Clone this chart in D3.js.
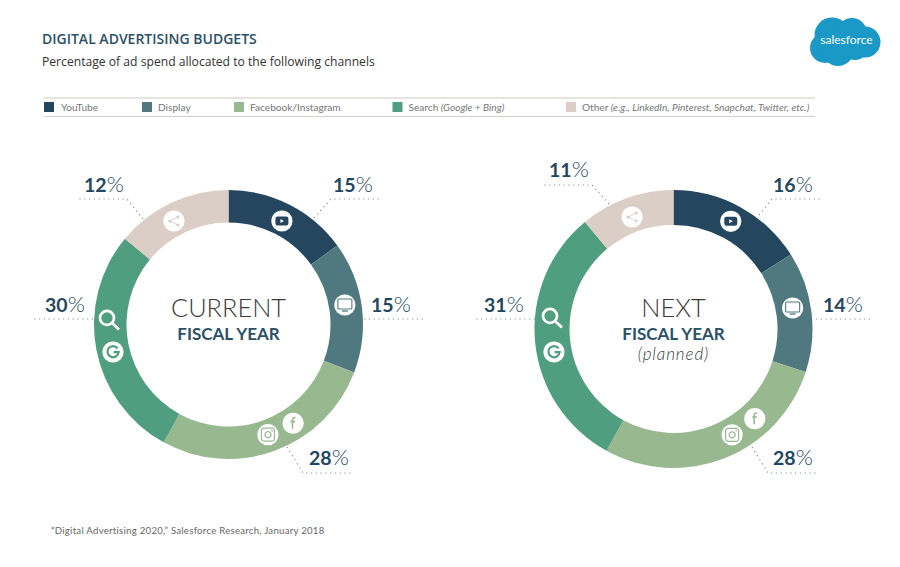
<!DOCTYPE html>
<html>
<head>
<meta charset="utf-8">
<script src="https://cdn.jsdelivr.net/npm/d3@7"></script>
<style>
html, body { margin: 0; padding: 0; background: #fff; }
svg { display: block; }
text { font-family: Lato, "Open Sans", sans-serif; }
</style>
</head>
<body>
<div id="chart"></div>
<script>
const channels = ["YouTube", "Display", "Facebook/Instagram", "Search", "Other"];
const channelNotes = ["", "", "", "(Google + Bing)", "(e.g., LinkedIn, Pinterest, Snapchat, Twitter, etc.)"];
const channelColors = ["#24475f", "#4f797e", "#98b98f", "#4f9e7f", "#dbcec6"];

// printed percentages
const currentLabels = [15, 15, 28, 30, 12];
const nextLabels = [16, 14, 28, 31, 11];

// slice sizes as measured on the picture. The left donut isn't quite drawn to its printed numbers
const currentSlices = [15, 15.8, 27.2, 28, 14];
const nextSlices = [16, 14, 28, 31, 11];

const width = 900, height = 567;

const svg = d3.select("#chart").append("svg")
    .attr("width", width)
    .attr("height", height);

// header
svg.append("text")
    .attr("x", 42).attr("y", 44)
    .style("font-family", "'Open Sans'")
    .style("font-size", "14px").style("font-weight", 600)
    .attr("fill", "#2c5068")
    .text("DIGITAL ADVERTISING BUDGETS");

svg.append("text")
    .attr("x", 42).attr("y", 66)
    .style("font-family", "'Open Sans'")
    .style("font-size", "12.15px")
    .attr("fill", "#333")
    .text("Percentage of ad spend allocated to the following channels");

// salesforce cloud
const logo = svg.append("g").attr("fill", "#1a98c6");
[[832, 35, 17.5], [852, 33, 15], [865, 42, 15.5], [825, 48, 15], [838, 50, 16], [855, 47, 13]]
    .forEach(c => logo.append("circle").attr("cx", c[0]).attr("cy", c[1]).attr("r", c[2]));
svg.append("text")
    .attr("x", 846.5).attr("y", 44)
    .attr("text-anchor", "middle")
    .style("font-size", "12px")
    .attr("fill", "#fff")
    .text("salesforce");

// legend
const legendX = [44, 142, 234, 392.5, 566];
svg.append("line").attr("x1", 44).attr("x2", 815).attr("y1", 98).attr("y2", 98)
    .attr("stroke", "#dcdcd4").attr("stroke-width", 1.5);
svg.append("line").attr("x1", 44).attr("x2", 815).attr("y1", 116.5).attr("y2", 116.5)
    .attr("stroke", "#d0d0cc").attr("stroke-width", 1);

const legend = svg.selectAll(".legend").data(channels).enter().append("g")
    .attr("class", "legend")
    .attr("transform", (d, i) => `translate(${legendX[i]},102)`);

legend.append("rect")
    .attr("width", 10).attr("height", 10)
    .attr("fill", (d, i) => channelColors[i]);

const legendText = legend.append("text")
    .attr("x", (d, i) => i == 0 ? 17 : 16).attr("y", 9)
    .style("font-size", "10.15px")
    .attr("fill", "#777");
legendText.append("tspan").text(d => d);
legendText.append("tspan")
    .style("font-style", "italic")
    .text((d, i) => channelNotes[i] ? " " + channelNotes[i] : "");

// icon glyphs, all in a 0,0 centered box. c is the slice color
const disc = (g) => g.append("circle").attr("r", 10.6).attr("fill", "#fff");

const glyphs = {
    youtube: (g, c) => {
        disc(g);
        g.append("rect").attr("x", -6.5).attr("y", -4.5).attr("width", 13).attr("height", 9).attr("rx", 2.2).attr("fill", c);
        g.append("path").attr("d", "M-1.5,-2 L2,0 L-1.5,2 Z").attr("fill", "#fff");
    },
    display: (g, c) => {
        disc(g);
        g.append("rect").attr("x", -7).attr("y", -6).attr("width", 14).attr("height", 10).attr("rx", 1)
            .attr("fill", "none").attr("stroke", c).attr("stroke-width", 1.1);
        g.append("line").attr("x1", -3).attr("x2", 3).attr("y1", 6).attr("y2", 6)
            .attr("stroke", c).attr("stroke-width", 1.3);
    },
    facebook: (g, c) => {
        disc(g);
        g.append("path").attr("d", "M2.4,-5.6 C0.2,-6 -0.6,-4.8 -0.6,-3 L-0.6,5.5 M-2.6,-1.6 L2,-1.6")
            .attr("fill", "none").attr("stroke", c).attr("stroke-width", 1.6);
    },
    instagram: (g, c) => {
        disc(g);
        g.append("rect").attr("x", -6.5).attr("y", -6.5).attr("width", 13).attr("height", 13).attr("rx", 2.5)
            .attr("fill", "none").attr("stroke", c).attr("stroke-width", 1.2);
        g.append("circle").attr("r", 3).attr("fill", "none").attr("stroke", c).attr("stroke-width", 1.2);
        g.append("circle").attr("cx", 4).attr("cy", -4).attr("r", 0.8).attr("fill", c);
    },
    google: (g, c) => {
        disc(g);
        g.append("path").attr("d", "M4.6,-3.6 A5.6,5.6 0 1 0 5.6,0.2 L0.6,0.2")
            .attr("fill", "none").attr("stroke", c).attr("stroke-width", 2.2);
    },
    search: (g) => {
        g.append("circle").attr("cx", -2).attr("cy", -2).attr("r", 7)
            .attr("fill", "none").attr("stroke", "#fff").attr("stroke-width", 2.7);
        g.append("line").attr("x1", 3).attr("y1", 3).attr("x2", 10).attr("y2", 9.5)
            .attr("stroke", "#fff").attr("stroke-width", 2.7);
    },
    share: (g, c) => {
        disc(g);
        g.append("path").attr("d", "M4,-4 L-4,0 L4,4")
            .attr("fill", "none").attr("stroke", c).attr("stroke-width", 0.9);
        [[4, -4], [-4, 0], [4, 4]].forEach(p =>
            g.append("circle").attr("cx", p[0]).attr("cy", p[1]).attr("r", 1.6).attr("fill", c));
    }
};

function drawDonut(opts) {
    const pie = d3.pie().sort(null).value(d => d);
    const arc = d3.arc().innerRadius(opts.inner).outerRadius(opts.outer);

    const g = svg.append("g")
        .attr("transform", `translate(${opts.cx},${opts.cy})`);

    g.selectAll("path.slice")
        .data(pie(opts.slices))
        .enter()
        .append("path")
        .attr("class", "slice")
        .attr("d", arc)
        .attr("fill", (d, i) => channelColors[i]);

    // icons sit on the ring, [glyph, slice index, angle in degrees, radius]
    opts.icons.forEach(ic => {
        const p = d3.pointRadial(ic[2] * Math.PI / 180, ic[3]);
        const icon = g.append("g").attr("transform", `translate(${p[0]},${p[1]})`);
        glyphs[ic[0]](icon, channelColors[ic[1]]);
    });

    // dotted leaders and the percentage labels
    const line = d3.line();
    opts.leaders.forEach((pts, i) => {
        svg.append("path")
            .attr("d", line(pts))
            .attr("fill", "none")
            .attr("stroke", "#8a8f92")
            .attr("stroke-width", 1.2)
            .attr("stroke-dasharray", "1.2 3.6");

        const t = svg.append("text")
            .attr("x", opts.labelPos[i][0]).attr("y", opts.labelPos[i][1])
            .attr("fill", "#24475f");
        t.append("tspan").style("font-size", "19.5px").style("font-weight", 700).text(opts.labels[i]);
        t.append("tspan").style("font-size", "22px").style("font-weight", 300).text("%");
    });

    // center text
    opts.center.forEach(c => {
        svg.append("text")
            .attr("x", opts.cx).attr("y", c.y)
            .attr("text-anchor", "middle")
            .attr("fill", c.color)
            .style("font-size", c.size + "px")
            .style("font-weight", c.weight)
            .style("font-style", c.italic ? "italic" : "normal")
            .style("letter-spacing", c.spacing ? c.spacing + "px" : null)
            .text(c.text);
    });
}

drawDonut({
    cx: 228.5, cy: 324.5, inner: 102, outer: 134.5,
    slices: currentSlices,
    labels: currentLabels,
    icons: [
        ["youtube", 0, 27.3, 116.5], ["display", 1, 80.5, 118],
        ["facebook", 2, 146.8, 118], ["instagram", 2, 160.3, 117],
        ["google", 3, 256.6, 118.7], ["search", 3, 272.2, 119.6],
        ["share", 4, 332.2, 117]
    ],
    leaders: [
        [[314, 218], [331, 199], [380, 199]],
        [[364, 319], [424, 319]],
        [[287, 447], [303, 473], [353, 473]],
        [[93, 319], [34, 319]],
        [[143, 219], [127, 199], [78, 199]]
    ],
    labelPos: [[333, 192], [371, 312], [309, 465], [45, 312], [84, 192]],
    center: [
        { text: "CURRENT", y: 317, size: 25.4, weight: 300, color: "#3c3c3c" },
        { text: "FISCAL YEAR", y: 339.5, size: 17, weight: 700, color: "#2c5068" }
    ]
});

drawDonut({
    cx: 673.5, cy: 329, inner: 104, outer: 139,
    slices: nextSlices,
    labels: nextLabels,
    icons: [
        ["youtube", 0, 28, 122], ["display", 1, 80, 121],
        ["facebook", 2, 137.8, 121], ["instagram", 2, 151, 121],
        ["google", 3, 259.1, 121.7], ["search", 3, 275.2, 122],
        ["share", 4, 339.7, 119.4]
    ],
    leaders: [
        [[759, 215], [772, 199], [821, 199]],
        [[816, 319], [871, 319]],
        [[752, 447], [768, 473], [819, 473]],
        [[535, 319], [475, 319]],
        [[609, 204], [592, 185], [544, 185]]
    ],
    labelPos: [[773, 192], [823, 312], [773, 465], [484, 312], [549, 177]],
    center: [
        { text: "NEXT", y: 317, size: 25.4, weight: 300, color: "#3c3c3c" },
        { text: "FISCAL YEAR", y: 339.5, size: 17, weight: 700, color: "#2c5068" },
        { text: "(planned)", y: 360, size: 17, weight: 300, italic: true, spacing: 0.9, color: "#3c3c3c" }
    ]
});

// source
svg.append("text")
    .attr("x", 51).attr("y", 534)
    .style("font-size", "9.6px")
    .style("letter-spacing", "0.27px")
    .attr("fill", "#666")
    .text("\u201CDigital Advertising 2020,\u201D Salesforce Research, January 2018");
</script>
</body>
</html>
